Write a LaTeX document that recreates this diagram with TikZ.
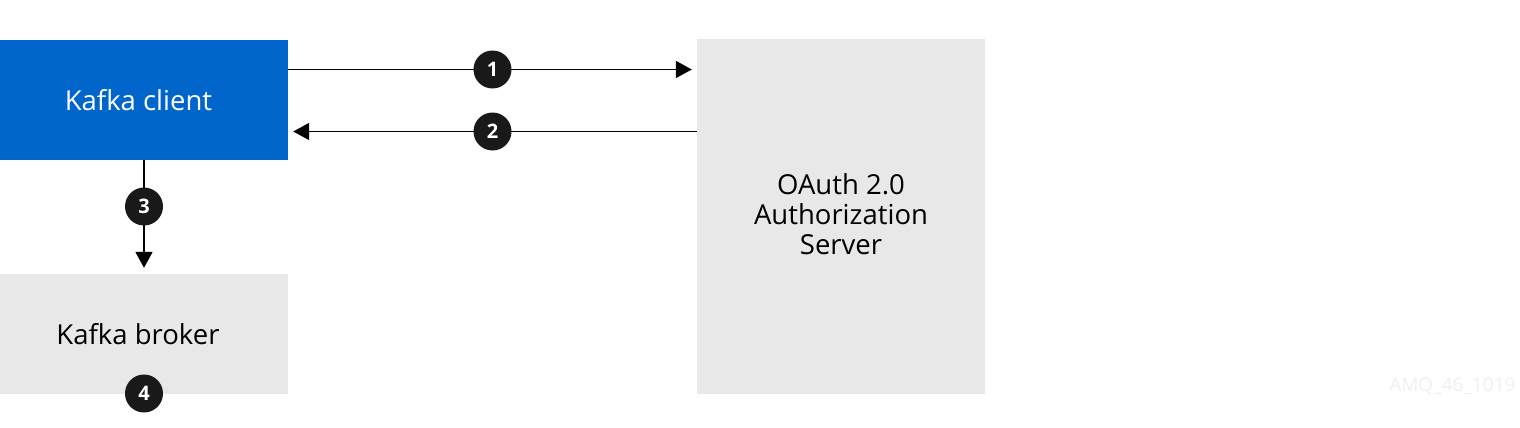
\documentclass[tikz,border=0pt]{standalone}
\usepackage{fontspec}
\setmainfont{Open Sans}
\usetikzlibrary{arrows.meta}
\definecolor{rhblue}{HTML}{0066CC}
\definecolor{boxgray}{HTML}{E8E8E8}
\definecolor{wm}{HTML}{F0F0F0}
\begin{document}
\begin{tikzpicture}[x=1pt,y=-1pt,
  box/.style={rectangle, inner sep=0pt, minimum width=288pt, align=center},
  lbl/.style={font=\fontsize{27.5}{30}\selectfont, align=center, inner sep=0pt},
  arr/.style={line width=1.8pt, -{Triangle[length=16pt,width=17pt]}},
  num/.style={circle, fill=black!90, text=white, inner sep=0pt, minimum size=38pt, font=\fontsize{20}{20}\selectfont\bfseries}]
\useasboundingbox (0,0) rectangle (1520,428);
\node[box, fill=rhblue, minimum height=120pt] (client) at (144,100) {};
\node[lbl, text=white] (clienttext) at (138.5,100) {Kafka client};
\node[box, fill=boxgray, minimum height=120pt] (broker) at (144,334) {};
\node[lbl] (brokertext) at (138,334) {Kafka broker};
\node[box, fill=boxgray, minimum height=355pt] (oauth) at (841,216.5) {};
\node[lbl] (oauthtext) at (841,214) {OAuth 2.0\\Authorization\\Server};
\coordinate (y1) at (0,69.5);
\coordinate (y2) at (0,131.5);
\draw[arr, shorten >=5pt] (client.east |- y1) -- (oauth.west |- y1);
\draw[arr, shorten >=5pt] (oauth.west |- y2) -- (client.east |- y2);
\draw[arr, shorten >=6pt] (client.south) -- (broker.north);
\node[num] (n1) at (492.5,69.5) {1};
\node[num] (n2) at (492.5,131.5) {2};
\node[num] (n3) at (144,206.5) {3};
\node[num] (n4) at (144,393.5) {4};
\node[text=wm, font=\fontsize{19}{19}\selectfont, anchor=east] (wmark) at (1519,386) {AMQ\_46\_1019};
\end{tikzpicture}
\end{document}
